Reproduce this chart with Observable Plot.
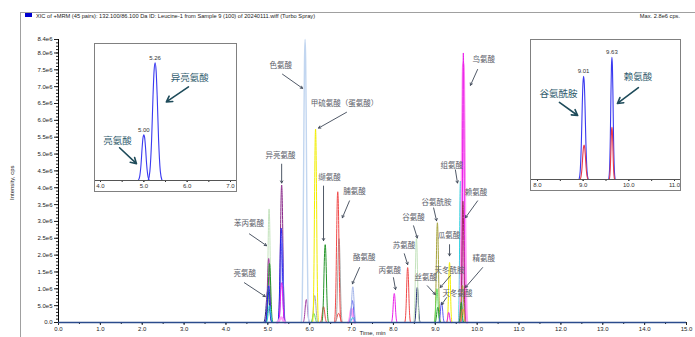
<!DOCTYPE html>
<html><head><meta charset="utf-8">
<script src="https://cdn.jsdelivr.net/npm/d3@7"></script>
<script src="https://cdn.jsdelivr.net/npm/@observablehq/plot@0.6"></script>
<style>
body{margin:0;background:#fff;font-family:"Liberation Sans",Arial,sans-serif}
#wrap{position:relative;width:695px;height:337px;overflow:hidden;background:#fff}
#wrap > svg{position:absolute;left:0;top:0}
.hline{position:absolute;left:20px;top:12px;width:675px;height:0;border-top:1px solid #a0a0a0}
.vline{position:absolute;left:20px;top:12px;width:0;height:330px;border-left:1px solid #a0a0a0}
.sq{position:absolute;left:25px;top:13px;width:7px;height:4px;background:#0000d0}
.title{position:absolute;left:36px;top:12.5px;font-size:5.7px;color:#222;white-space:nowrap}
.max{position:absolute;right:15px;top:12.5px;font-size:5.7px;color:#222;white-space:nowrap}
.inset{position:absolute;border:1px solid #808080;background:#fff}
.inset svg{display:block}
</style></head><body>
<div id="wrap">
  <div class="hline"></div>
  <div class="vline"></div>
  <div class="sq"></div>
  <div class="title">XIC of +MRM (45 pairs): 132.100/86.100 Da ID: Leucine-1 from Sample 9 (100) of 20240111.wiff (Turbo Spray)</div>
  <div class="max">Max. 2.8e6 cps.</div>
</div>
<script>
// ---------- main chromatogram peaks ----------
const peakTime     = [5.00,5.03,5.02,5.04,5.02,5.04, 5.33,5.32,5.34,5.33,5.32, 5.92,5.89, 6.12,6.10,6.14, 6.33,6.37, 6.69,6.70,6.67, 7.00,7.03,7.02,7.03, 8.02, 8.34, 8.57,8.55, 9.05,9.04,9.06,9.15, 9.34,9.32, 9.60,9.67,9.67,9.66,9.65,9.62,9.66];
const peakHeightM  = [0.95,3.37,1.90,1.75,1.09,0.50, 4.08,2.80,2.37,1.18,0.15, 0.68,8.40, 0.80,0.27,5.74, 0.47,2.31, 0.27,2.49,3.88, 0.40,0.15,0.65,1.06, 0.86, 1.63, 1.04,2.49, 2.96,1.00,0.45,0.60, 1.78,0.30, 4.20,7.70,8.00,3.60,1.10,0.60,0.40];
const peakHalfWidth= [0.10,0.07,0.08,0.08,0.08,0.08, 0.08,0.08,0.08,0.08,0.10, 0.08,0.09, 0.08,0.08,0.07, 0.08,0.08, 0.10,0.08,0.08, 0.08,0.08,0.08,0.08, 0.07, 0.07, 0.07,0.07, 0.07,0.07,0.07,0.07, 0.06,0.06, 0.05,0.09,0.05,0.06,0.07,0.06,0.07];
const peakTrace    = [5,1,2,3,0,4, 18,0,6,7,14, 2,8, 10,16,9, 11,3, 11,10,11, 14,4,6,12, 7, 11, 5,1, 13,16,3,6, 9,7, 4,14,7,15,13,3,17];

// styles per trace
const traceColors = ["#2020f0","#c4e3bd","#a03aa0","#24952a","#2ccfe0","#1d2a6e","#5d5df2","#ea1fea","#c2d6f0","#f2ee00","#a8a8a8","#f04848","#a2b4ea","#a5a23a","#ffa0f4","#a3285f","#5ee05e","#e8a040","#8a2a8a"];
const traceWidths = [1,1,1,1,1,1,1,1,1.4,1,1,1,1,1,2.4,1,1,1,1];

// normalised peak profile template (offset in half-widths, relative height)
const shapeOffset = [-1,-0.75,-0.5,-0.3,-0.15,0,0.15,0.3,0.5,0.75,1];
const shapeValue  = [0,0.08,0.35,0.72,0.93,1,0.93,0.72,0.35,0.08,0];

// axes
const xTickValues = [0,1,2,3,4,5,6,7,8,9,10,11,12,13,14,15];
const xTickLabels = ["0.0","1.0","2.0","3.0","4.0","5.0","6.0","7.0","8.0","9.0","10.0","11.0","12.0","13.0","14.0","15.0"];
const yTickValues = [0,5e5,1e6,1.5e6,2e6,2.5e6,3e6,3.5e6,4e6,4.5e6,5e6,5.5e6,6e6,6.5e6,7e6,7.5e6,8e6,8.4e6];
const yTickLabels = ["0.0","5.0e5","1.0e6","1.5e6","2.0e6","2.5e6","3.0e6","3.5e6","4.0e6","4.5e6","5.0e6","5.5e6","6.0e6","6.5e6","7.0e6","7.5e6","8.0e6","8.4e6"];

// annotations (label text, label position, arrow tail, arrow tip) in data units (min, million cps)
const annText = ["色氨酸","甲硫氨酸（蛋氨酸）","异亮氨酸","缬氨酸","脯氨酸","苯丙氨酸","亮氨酸","酪氨酸","丙氨酸","苏氨酸","谷氨酸","谷氨酰胺","瓜氨酸","天冬酰胺","丝氨酸","天冬氨酸","组氨酸","赖氨酸","精氨酸","鸟氨酸"];
const annT  = [5.31,6.83,5.30,6.47,7.07,4.55,4.45,7.30,7.91,8.25,8.48,9.03,9.33,9.34,8.77,9.53,9.39,9.97,10.16,10.16];
const annV  = [7.63,6.51,4.94,4.29,3.88,2.93,1.45,1.92,1.54,2.28,3.11,3.55,2.57,1.54,1.33,0.86,4.67,3.85,1.89,7.81];
const arrT1 = [5.35,6.88,5.33,6.33,6.95,4.56,4.44,7.19,8.00,8.26,8.48,8.96,9.34,9.36,8.81,9.27,9.48,10.01,10.13,10.01];
const arrV1 = [7.37,6.24,4.70,4.05,3.61,2.63,1.18,1.63,1.33,2.04,2.87,3.40,2.31,1.39,1.09,0.74,4.53,3.61,1.63,7.51];
const arrT2 = [5.83,6.21,5.33,6.33,6.78,4.97,4.94,7.02,8.05,8.34,8.57,9.03,9.34,9.12,9.00,9.15,9.53,9.72,9.72,9.84];
const arrV2 = [6.95,5.77,4.14,2.43,3.11,2.28,0.77,1.15,0.98,1.72,2.51,3.02,1.98,1.04,0.83,0.53,4.14,3.11,1.04,7.04];

// ---------- inset 1 (Leu / Ile) ----------
const in1Time = [5.00,5.26];
const in1HeightM = [1.09,2.80];
const in1HalfWidth = [0.13,0.16];
const in1PeakLabels = ["5.00","5.26"];
const in1Ticks = [4,5,6,7];
const in1TickLabels = ["4.0","5.0","6.0","7.0"];
const in1AnnText = ["异亮氨酸","亮氨酸"];
const in1AnnT = [6.06,4.39], in1AnnV = [2.44,0.95];
const in1ArrT1 = [6.03,4.44], in1ArrV1 = [2.23,0.78];
const in1ArrT2 = [5.52,4.83], in1ArrV2 = [1.87,0.40];

// ---------- inset 2 (Gln / Lys) ----------
const in2Time = [9.01,9.63,9.02,9.63];
const in2HeightM = [3.00,3.55,1.00,1.52];
const in2HalfWidth = [0.10,0.07,0.09,0.06];
const in2Color = ["#3a3af0","#3a3af0","#e83a4a","#e83a4a"];
const in2PeakLabels = ["9.01","9.63","",""];
const in2Ticks = [8,9,10,11];
const in2TickLabels = ["8.0","9.0","10.0","11.0"];
const in2AnnText = ["谷氨酰胺","赖氨酸"];
const in2AnnT = [8.46,10.20], in2AnnV = [2.50,2.99];
const in2ArrT1 = [8.48,10.21], in2ArrV1 = [2.24,2.67];
const in2ArrT2 = [8.88,9.75], in2ArrV2 = [1.86,2.21];

// ---------- build ----------
function profile(times, heightsM, widths, colorOf, widthOf) {
  const pts = [];
  times.forEach((t, i) => {
    shapeOffset.forEach((o, j) => {
      pts.push({peak: i, t: t + o * widths[i], v: heightsM[i] * 1e6 * shapeValue[j], color: colorOf(i), sw: widthOf(i)});
    });
  });
  return pts;
}
const cjk = "'Noto Sans CJK SC', sans-serif";
const mainPts = profile(peakTime, peakHeightM, peakHalfWidth, i => traceColors[peakTrace[i]], i => traceWidths[peakTrace[i]]);
const yLab = new Map(yTickValues.map((v, i) => [v, yTickLabels[i]]));
const xLab = new Map(xTickValues.map((v, i) => [v, xTickLabels[i]]));
const ann = annText.map((_, i) => i);

const main = Plot.plot({
  width: 695, height: 337,
  marginLeft: 58, marginRight: 9, marginTop: 39, marginBottom: 15,
  x: {domain: [0, 15], label: null},
  y: {domain: [0, 8.4e6], label: null},
  color: {type: "identity"},
  style: {fontFamily: "'Liberation Sans', Arial, sans-serif", background: "white", color: "#222"},
  marks: [
    Plot.axisY(d3.range(0, 8.40001e6, 1e5), {tickSize: 2, tickFormat: () => "", label: null}),
    Plot.axisY(yTickValues, {tickSize: 4, tickPadding: 2, fontSize: 6, tickFormat: d => yLab.get(d), label: null}),
    Plot.axisX(d3.range(0, 15.01, 0.5), {tickSize: 2, tickFormat: () => "", label: null}),
    Plot.axisX(xTickValues, {tickSize: 3, tickPadding: 1, fontSize: 6, tickFormat: d => xLab.get(d), label: null}),
    Plot.ruleX([0], {stroke: "#000"}),
    Plot.line(mainPts, {x: "t", y: "v", z: "peak", stroke: "color", strokeWidth: "sw", curve: "monotone-x"}),
    Plot.ruleY([0], {stroke: "#2b4b8c", strokeWidth: 1.3}),
    Plot.arrow(ann, {x1: i => arrT1[i], y1: i => arrV1[i] * 1e6, x2: i => arrT2[i], y2: i => arrV2[i] * 1e6, stroke: "#3c4656", strokeWidth: 0.9, headLength: 4}),
    Plot.text(ann, {x: i => annT[i], y: i => annV[i] * 1e6, text: i => annText[i], fontSize: 7.5, fill: "#5c606a", fontFamily: cjk}),
    Plot.text(["Time, min"], {frameAnchor: "bottom", dy: 12, fontSize: 6, fill: "#222"}),
    Plot.text(["Intensity, cps"], {frameAnchor: "left", dx: -46, dy: 19, rotate: -90, fontSize: 6, fill: "#222"})
  ]
});
const wrap = document.getElementById("wrap");
wrap.insertBefore(main, wrap.firstChild);

function makeInset(o) {
  const pts = profile(o.time, o.heightM, o.halfWidth, o.colorOf, () => 1.1);
  const idx = o.time.map((_, i) => i);
  const aidx = o.annText.map((_, i) => i);
  const lab = new Map(o.ticks.map((v, i) => [v, o.tickLabels[i]]));
  const svg = Plot.plot({
    width: o.w, height: o.h,
    marginLeft: o.ml, marginRight: o.mr, marginTop: 10, marginBottom: 11,
    x: {domain: o.xd, label: null},
    y: {domain: o.yd, label: null, axis: null},
    color: {type: "identity"},
    style: {fontFamily: "'Liberation Sans', Arial, sans-serif", background: "white", color: "#333"},
    marks: [
      Plot.axisX(d3.range(o.xd[0], o.xd[1] + 0.01, 0.5), {tickSize: 2, tickFormat: () => "", label: null}),
      Plot.axisX(o.ticks, {tickSize: 2, tickPadding: 1, fontSize: 6, tickFormat: d => lab.get(d), label: null}),
      Plot.line(pts, {x: "t", y: "v", z: "peak", stroke: "color", strokeWidth: "sw", curve: "monotone-x"}),
      Plot.ruleY([0], {stroke: "#555", insetLeft: -o.ml, insetRight: -o.mr}),
      Plot.text(idx, {x: i => o.time[i], y: i => o.heightM[i] * 1e6, text: i => o.peakLabels[i], dy: -5, fontSize: 6, fill: "#333"}),
      Plot.arrow(aidx, {x1: i => o.arrT1[i], y1: i => o.arrV1[i] * 1e6, x2: i => o.arrT2[i], y2: i => o.arrV2[i] * 1e6, stroke: "#1e4b5a", strokeWidth: 1.6, headLength: 6}),
      Plot.text(aidx, {x: i => o.annT[i], y: i => o.annV[i] * 1e6, text: i => o.annText[i], fontSize: 9.5, fill: "#2e5a6c", fontFamily: cjk})
    ]
  });
  const box = document.createElement("div");
  box.className = "inset";
  box.style.left = o.left + "px";
  box.style.top = o.top + "px";
  box.appendChild(svg);
  wrap.appendChild(box);
}

makeInset({left: 94, top: 43, w: 141, h: 147, ml: 5, mr: 6, xd: [4, 7], yd: [0, 3.0e6],
  time: in1Time, heightM: in1HeightM, halfWidth: in1HalfWidth, colorOf: () => "#3a3af0",
  peakLabels: in1PeakLabels, ticks: in1Ticks, tickLabels: in1TickLabels,
  annText: in1AnnText, annT: in1AnnT, annV: in1AnnV, arrT1: in1ArrT1, arrV1: in1ArrV1, arrT2: in1ArrT2, arrV2: in1ArrV2});

makeInset({left: 530, top: 39, w: 149, h: 150, ml: 6, mr: 6, xd: [8, 11], yd: [0, 3.75e6],
  time: in2Time, heightM: in2HeightM, halfWidth: in2HalfWidth, colorOf: i => in2Color[i],
  peakLabels: in2PeakLabels, ticks: in2Ticks, tickLabels: in2TickLabels,
  annText: in2AnnText, annT: in2AnnT, annV: in2AnnV, arrT1: in2ArrT1, arrV1: in2ArrV1, arrT2: in2ArrT2, arrV2: in2ArrV2});
</script>
</body></html>
